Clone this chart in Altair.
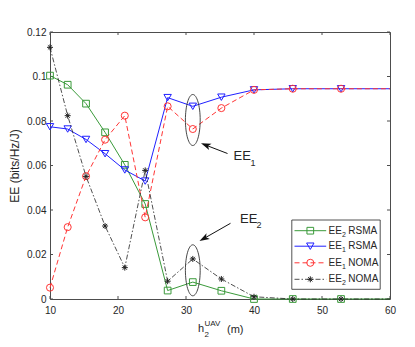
import altair as alt
import pandas as pd

# ---------------- data ----------------
h = [10, 12.6, 15.3, 18.1, 21.0, 24.0, 27.3, 31.0, 35.2, 40.0, 45.7, 52.8, 60.0]
ee2_rsma = [0.1004, 0.0963, 0.0878, 0.0749, 0.0603, 0.0427, 0.0038, 0.0076, 0.0037, 0.0, 0.0, 0.0, 0.0]
ee1_rsma = [0.0774, 0.0764, 0.0717, 0.0653, 0.0580, 0.0530, 0.0905, 0.0866, 0.0907, 0.0940, 0.0945, 0.0945, 0.0945]
ee1_noma = [0.0051, 0.0323, 0.0552, 0.0716, 0.0824, 0.0367, 0.0866, 0.0764, 0.0858, 0.0940, 0.0945, 0.0945, 0.0945]
ee2_noma = [0.1131, 0.0824, 0.0551, 0.0328, 0.0141, 0.0578, 0.0080, 0.0180, 0.0090, 0.0010, 0.0, 0.0, 0.0]

series_names = ["EE2 RSMA", "EE1 RSMA", "EE1 NOMA", "EE2 NOMA"]
series_values = [ee2_rsma, ee1_rsma, ee1_noma, ee2_noma]
legend_main = ["EE", "EE", "EE", "EE"]
legend_sub = ["2", "1", "1", "2"]
legend_tail = ["RSMA", "RSMA", "NOMA", "NOMA"]

x_ticks = [10, 20, 30, 40, 50, 60]
y_ticks = [0, 0.02, 0.04, 0.06, 0.08, 0.10, 0.12]

# ---------------- styles ----------------
W, H = 340, 267
FONT = "Liberation Sans"
TXT = "#262626"
FRAME = "#4d4d4d"
STAR = "M-1,0L1,0M0,-1L0,1M-0.7,-0.7L0.7,0.7M-0.7,0.7L0.7,-0.7"
styles = [
    dict(color="#3a9a3a", dash=None, shape="square", size=45, sw=1.0),
    dict(color="#2020ff", dash=None, shape="triangle-down", size=55, sw=1.0),
    dict(color="#ff3535", dash=[5, 3], shape="circle", size=50, sw=1.0),
    dict(color="#222222", dash=[5, 2, 1.5, 2], shape=STAR, size=36, sw=0.8),
]

xs = alt.Scale(domain=[10, 60], nice=False, zero=False)
ys = alt.Scale(domain=[0, 0.12], nice=False, zero=False)

x_axis = alt.Axis(values=x_ticks, title=None, ticks=False, domain=False, grid=False,
                  labelFont=FONT, labelFontSize=10, labelColor=TXT, labelPadding=6,
                  labelFlush=False)
y_axis = alt.Axis(values=y_ticks, format=".2~f", ticks=False, domain=False, grid=False,
                  labelFont=FONT, labelFontSize=10, labelColor=TXT, labelPadding=4,
                  labelFlush=False,
                  title="EE (bits/Hz/J)", titleFont=FONT, titleFontSize=12,
                  titleFontWeight="normal", titleColor=TXT, titlePadding=5)

layers = []

# inward ticks on the four edges
xt = pd.DataFrame({"t": x_ticks})
yt = pd.DataFrame({"t": y_ticks})
layers.append(alt.Chart(xt).mark_rule(color=FRAME, strokeWidth=1).encode(
    x=alt.X("t:Q", scale=xs, axis=x_axis), y=alt.value(H), y2=alt.value(H - 3)))
layers.append(alt.Chart(xt).mark_rule(color=FRAME, strokeWidth=1).encode(
    x=alt.X("t:Q", scale=xs, axis=x_axis), y=alt.value(0), y2=alt.value(3)))
layers.append(alt.Chart(yt).mark_rule(color=FRAME, strokeWidth=1).encode(
    y=alt.Y("t:Q", scale=ys, axis=y_axis), x=alt.value(0), x2=alt.value(3)))
layers.append(alt.Chart(yt).mark_rule(color=FRAME, strokeWidth=1).encode(
    y=alt.Y("t:Q", scale=ys, axis=y_axis), x=alt.value(W), x2=alt.value(W - 3)))

# series
for name, vals, st in zip(series_names, series_values, styles):
    df = pd.DataFrame({"h": h, "v": vals})
    enc = dict(x=alt.X("h:Q", scale=xs, axis=x_axis), y=alt.Y("v:Q", scale=ys, axis=y_axis))
    line_kw = dict(color=st["color"], strokeWidth=st["sw"])
    if st["dash"]:
        line_kw["strokeDash"] = st["dash"]
    layers.append(alt.Chart(df).mark_line(**line_kw).encode(**enc))
    layers.append(alt.Chart(df).transform_filter("datum.h < 60").mark_point(
        shape=st["shape"], size=st["size"], filled=False, color=st["color"],
        strokeWidth=1, opacity=1).encode(**enc))

one = pd.DataFrame({"a": [0]})


def text(t, x, y, size, align="left", baseline="alphabetic"):
    return alt.Chart(one).mark_text(text=t, align=align, baseline=baseline, font=FONT,
                                    fontSize=size, color=TXT).encode(
        x=alt.value(x), y=alt.value(y))


ELLIPSE = "M0,-1A0.29,1,0,1,1,0,1A0.29,1,0,1,1,0,-1Z"
HEAD = "M0,0L-1,-0.33L-0.75,0L-1,0.33Z"

# ellipses
for cy in [88, 238.3]:
    layers.append(alt.Chart(one).mark_point(shape=ELLIPSE, size=2601, filled=False,
                                            color="#333333", strokeWidth=0.9, opacity=1).encode(
        x=alt.value(142.8), y=alt.value(cy)))

# arrows
for (tx, ty, hx, hy, ang) in [(177.5, 121.5, 151, 111.3, 201), (180.5, 191.3, 149.5, 209, 150.3)]:
    layers.append(alt.Chart(one).mark_rule(color="#111111", strokeWidth=1).encode(
        x=alt.value(tx), y=alt.value(ty), x2=alt.value(hx + 0.9 * (tx - hx) / 10),
        y2=alt.value(hy + 0.9 * (ty - hy) / 10)))
    layers.append(alt.Chart(one).mark_point(shape=HEAD, size=400, filled=True,
                                            color="#111111", opacity=1, angle=ang).encode(
        x=alt.value(hx), y=alt.value(hy)))

# annotation texts
layers.append(text("EE", 183.5, 128, 13))
layers.append(text("1", 200.5, 134, 9))
layers.append(text("EE", 190, 190.7, 13))
layers.append(text("2", 206.5, 195.7, 9))

# legend
layers.append(alt.Chart(one).mark_rect(fill="white", stroke="#262626", strokeWidth=0.8).encode(
    x=alt.value(241.8), x2=alt.value(330.2), y=alt.value(188), y2=alt.value(257.3)))
rows = [198.7, 214.2, 230.8, 247.3]
for i, st in enumerate(styles):
    ry = rows[i]
    rk = dict(color=st["color"], strokeWidth=st["sw"])
    if st["dash"]:
        rk["strokeDash"] = st["dash"]
    layers.append(alt.Chart(one).mark_rule(**rk).encode(
        x=alt.value(244.5), x2=alt.value(276.2), y=alt.value(ry)))
    layers.append(alt.Chart(one).mark_point(shape=st["shape"], size=st["size"], filled=False,
                                            color=st["color"], strokeWidth=1, opacity=1).encode(
        x=alt.value(260.3), y=alt.value(ry)))
    layers.append(text(legend_main[i], 278.5, ry + 3, 10))
    layers.append(text(legend_sub[i], 291.9, ry + 6, 7))
    layers.append(text(legend_tail[i], 298.3, ry + 3, 10))

# x-axis title: h_2^UAV (m)
layers.append(text("h", 148, 300, 11))
layers.append(text("UAV", 154.5, 294, 8))
layers.append(text("2", 154.5, 305, 8))
layers.append(text("(m)", 177, 300.5, 11))

chart = alt.layer(*layers).properties(
    width=W, height=H,
    autosize=alt.AutoSizeParams(type="none"),
    padding={"left": 42, "top": 24, "right": 17, "bottom": 40},
    background="white",
).configure_view(stroke=FRAME, strokeWidth=1)

chart.save("out.html", embed_options={"renderer": "svg", "actions": False})
